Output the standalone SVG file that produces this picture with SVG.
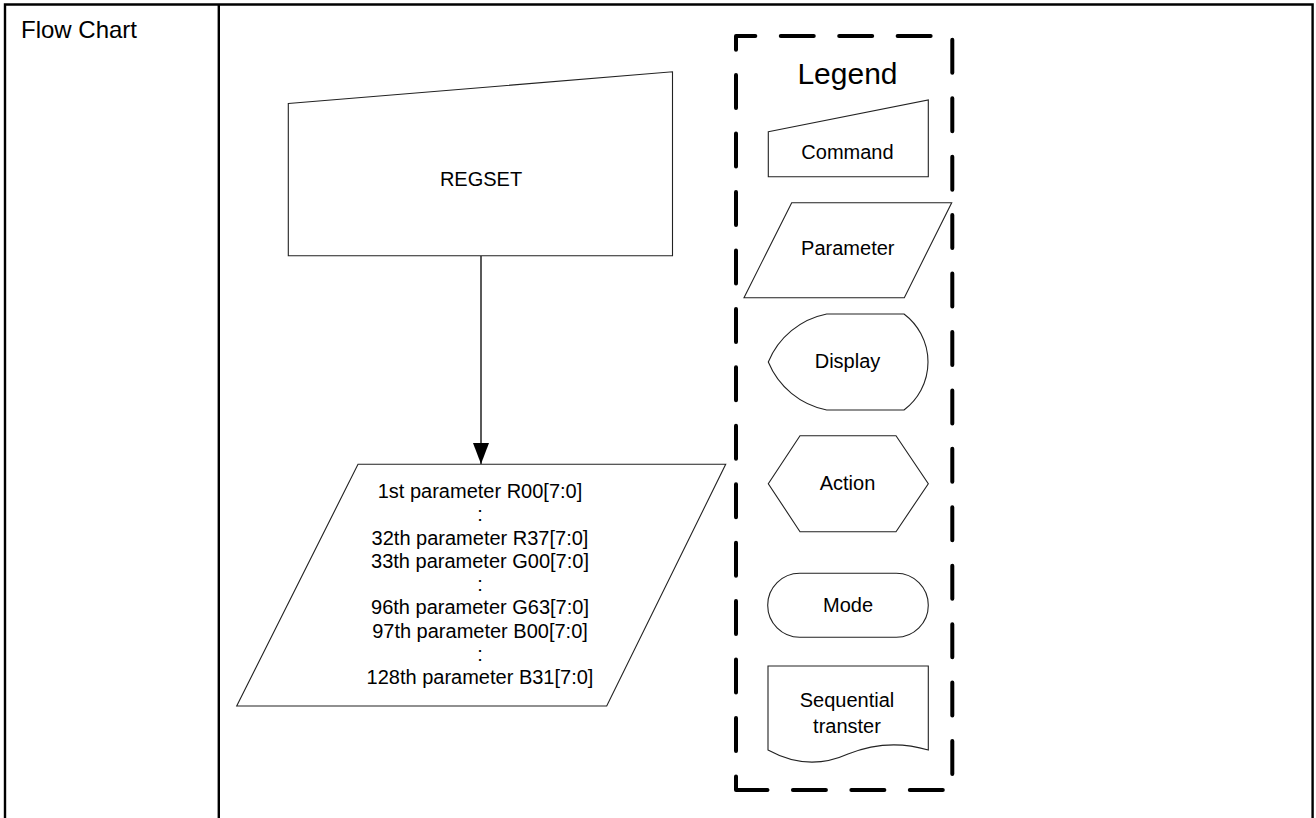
<svg xmlns="http://www.w3.org/2000/svg" width="1316" height="818" viewBox="0 0 1316 818">
<style>
  text { font-family: "Liberation Sans", Arial, sans-serif; fill: #000; }
  .frame { fill: none; stroke: #000; stroke-width: 2.4; }
  .shape { fill: #fff; stroke: #222; stroke-width: 1.1; stroke-linejoin: miter; }
  .lbl { font-size: 20px; text-anchor: middle; }
  .conn { stroke: #000; stroke-width: 1.3; fill: none; }
  .legendbox { fill: none; stroke: #000; stroke-width: 4; stroke-linecap: round; stroke-linejoin: round; stroke-dasharray: 33 25.44; stroke-dashoffset: 19.4; }
</style>
<defs>
  <marker id="arrow" markerUnits="userSpaceOnUse" viewBox="0 0 21 16" markerWidth="21" markerHeight="16" refX="21" refY="8" orient="auto">
    <path d="M0,0 L21,8 L0,16 Z" fill="#000"/>
  </marker>
</defs>
<rect width="1316" height="818" fill="#fff"/>

<g id="table-frame">
  <path class="frame" d="M5,818 V4.5 H1312.6 V818"/>
  <line class="frame" x1="218.8" y1="4.5" x2="218.8" y2="818"/>
  <text x="21" y="38" font-size="24">Flow Chart</text>
</g>

<g id="connectors">
  <line class="conn" x1="481" y1="256" x2="481" y2="464" marker-end="url(#arrow)"/>
</g>

<g id="regset">
  <polygon class="shape" points="288.3,103.5 672.5,71.8 672.5,255.8 288.3,255.8"/>
  <text class="lbl" x="481" y="186" font-size="19.5">REGSET</text>
</g>

<g id="parameters">
  <polygon class="shape" points="358,464.3 725.7,464.3 606.7,706 236.7,706"/>
  <text class="lbl" x="480" y="498">1st parameter R00[7:0]</text>
  <text class="lbl" x="480" y="521.2">:</text>
  <text class="lbl" x="480" y="544.5">32th parameter R37[7:0]</text>
  <text class="lbl" x="480" y="567.7">33th parameter G00[7:0]</text>
  <text class="lbl" x="480" y="591">:</text>
  <text class="lbl" x="480" y="614.2">96th parameter G63[7:0]</text>
  <text class="lbl" x="480" y="637.5">97th parameter B00[7:0]</text>
  <text class="lbl" x="480" y="660.7">:</text>
  <text class="lbl" x="480" y="684">128th parameter B31[7:0]</text>
</g>

<g id="legend">
  <path class="legendbox" d="M736,790 V36 H952.3 V790 Z"/>
  <text x="847.5" y="84" font-size="30" text-anchor="middle">Legend</text>
</g>

<g id="legend-command">
  <polygon class="shape" points="768.3,131.7 928.3,100 928.3,176.7 768.3,176.7"/>
  <text class="lbl" x="847.5" y="159.3">Command</text>
</g>

<g id="legend-parameter">
  <polygon class="shape" points="791.7,202.7 951.7,202.7 904.3,297.7 744,297.7"/>
  <text class="lbl" x="847.8" y="255">Parameter</text>
</g>

<g id="legend-display">
  <path class="shape" d="M826.7,314 H904 A60,60 0 0 1 904,410 H826.7 A80,80 0 0 1 768.3,362 A80,80 0 0 1 826.7,314 Z"/>
  <text class="lbl" x="847.5" y="368.3">Display</text>
</g>

<g id="legend-action">
  <polygon class="shape" points="800,435.7 896,435.7 928.3,483.7 896,531.7 800,531.7 768.3,483.7"/>
  <text class="lbl" x="847.5" y="490">Action</text>
</g>

<g id="legend-mode">
  <rect class="shape" x="767.7" y="573.3" width="160.6" height="64" rx="32" ry="32"/>
  <text class="lbl" x="848" y="611.7">Mode</text>
</g>

<g id="legend-sequential">
  <path class="shape" d="M768,666 H928.3 V750 Q888,738 848,754 Q808,772 768,750 Z"/>
  <text class="lbl" x="847" y="706.7">Sequential</text>
  <text class="lbl" x="847" y="732.7">transter</text>
</g>
</svg>
